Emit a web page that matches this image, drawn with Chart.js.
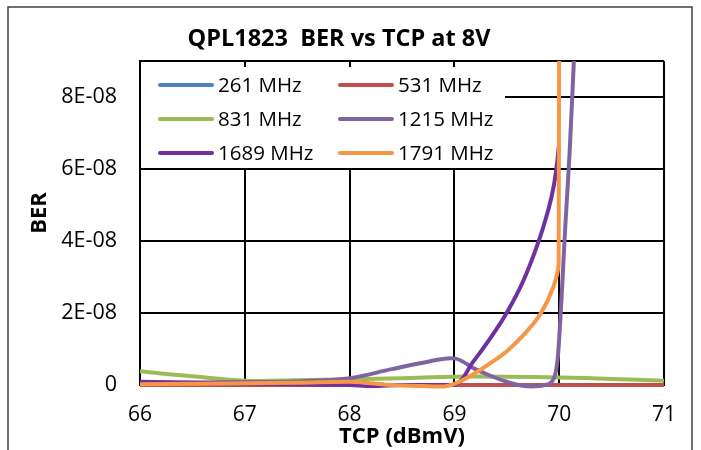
<!DOCTYPE html>
<html>
<head>
<meta charset="utf-8">
<script src="https://cdn.jsdelivr.net/npm/chart.js@4"></script>
<style>
html,body{margin:0;padding:0;background:#fff;}
#wrap{width:701px;height:450px;}
</style>
</head>
<body>
<div id="wrap"><canvas id="c" width="701" height="450"></canvas></div>
<script>
// ---- Data ----
const chartTitle = 'QPL1823  BER vs TCP at 8V';
const xTitle = 'TCP (dBmV)';
const yTitle = 'BER';
const xTickLabels = ['66', '67', '68', '69', '70', '71'];
const yTickLabels = ['0', '2E-08', '4E-08', '6E-08', '8E-08'];
const seriesNames = ['261 MHz', '531 MHz', '831 MHz', '1215 MHz', '1689 MHz', '1791 MHz'];
const seriesColors = ['#4F81BD', '#C0504D', '#9BBB59', '#8064A2', '#7030A0', '#F79646'];

const tcp261 = [66, 67, 68, 69, 70, 71];
const ber261 = [0, 0, 0, 0, 0, 0];

const tcp531 = [66, 67, 68, 69, 70, 71];
const ber531 = [0, 0, 0, 0, 0, 0];

const tcp831 = [66, 66.5, 67, 67.5, 68, 68.5, 69, 69.5, 70, 70.5, 71];
const ber831 = [3.8e-9, 2.4e-9, 1.2e-9, 1.3e-9, 1.6e-9, 1.9e-9, 2.3e-9, 2.3e-9, 2.1e-9, 1.7e-9, 1.2e-9];

const tcp1215 = [66, 67, 67.5, 68, 68.4, 68.7, 69, 69.2, 69.35, 69.5, 69.65, 69.8, 69.92, 69.97, 70.0, 70.06, 70.1, 70.14, 70.2];
const ber1215 = [0.6e-9, 0.8e-9, 1.0e-9, 1.9e-9, 4.4e-9, 6.2e-9, 7.4e-9, 4.4e-9, 2.5e-9, 0.9e-9, -0.2e-9, -0.3e-9, 0.6e-9, 4e-9, 13e-9, 45e-9, 65e-9, 90e-9, 125e-9];

const tcp1689 = [66, 66.5, 67, 67.5, 68, 68.2, 68.5, 69, 69.18, 69.34, 69.5, 69.66, 69.8, 69.9, 69.95, 69.98, 69.995];
const ber1689 = [0.9e-9, 0.6e-9, 0.4e-9, 0.2e-9, 0, -0.3e-9, 0, 0, 6.5e-9, 12.9e-9, 20.1e-9, 29.1e-9, 39.6e-9, 49.1e-9, 55.6e-9, 61.6e-9, 66e-9];

const tcp1791 = [66, 67, 67.5, 68, 68.2, 68.4, 68.7, 68.9, 69, 69.18, 69.34, 69.5, 69.66, 69.82, 69.945, 69.995, 70.0];
const ber1791 = [0.2e-9, 0.5e-9, 0.6e-9, 0.9e-9, 0.5e-9, 0, -0.3e-9, -0.4e-9, 0.3e-9, 3e-9, 6e-9, 9.4e-9, 13.9e-9, 19.7e-9, 27.3e-9, 34e-9, 300e-9];

const xs = [tcp261, tcp531, tcp831, tcp1215, tcp1689, tcp1791];
const ys = [ber261, ber531, ber831, ber1215, ber1689, ber1791];

const X_MIN = 66, X_MAX = 71, Y_MIN = 0, Y_MAX = 9e-8, Y_STEP = 2e-8;

const FONT = "'Open Sans', 'DejaVu Sans', sans-serif";

const datasets = seriesNames.map((name, i) => ({
  label: name,
  data: xs[i].map((x, j) => ({x: x, y: ys[i][j]})),
  borderColor: seriesColors[i],
  backgroundColor: seriesColors[i],
  borderWidth: 4,
  pointRadius: 0,
  pointHoverRadius: 0,
  tension: 0.35,
  fill: false,
  order: seriesNames.length - i,
  clip: {left: 4, right: 4, top: 0, bottom: 6}
}));

const decorPlugin = {
  id: 'decor',
  afterDraw(chart) {
    const ctx = chart.ctx;
    ctx.save();
    // outer border
    ctx.strokeStyle = '#404040';
    ctx.lineWidth = 1.5;
    ctx.strokeRect(8, 7, 684, 480);
    // title
    ctx.fillStyle = '#000';
    ctx.font = "bold 23.5px " + FONT;
    ctx.textAlign = 'center';
    ctx.textBaseline = 'middle';
    ctx.fillText(chartTitle, 339, 39);
    // y title
    ctx.save();
    ctx.translate(40, 213);
    ctx.rotate(-Math.PI / 2);
    ctx.font = "bold 22px " + FONT;
    ctx.fillText(yTitle, 0, 0);
    ctx.restore();
    // legend
    const ca = chart.chartArea;
    ctx.fillStyle = '#fff';
    ctx.fillRect(ca.left + 1, 67, 364, 101);
    const colX = [160, 340];
    const rowY = [85, 119, 153];
    ctx.font = "20.5px " + FONT;
    ctx.textAlign = 'left';
    ctx.textBaseline = 'middle';
    chart.data.datasets.forEach((ds, i) => {
      const cx = colX[i % 2], cy = rowY[Math.floor(i / 2)];
      ctx.strokeStyle = ds.borderColor;
      ctx.lineWidth = 4;
      ctx.lineCap = 'round';
      ctx.beginPath();
      ctx.moveTo(cx, cy);
      ctx.lineTo(cx + 52, cy);
      ctx.stroke();
      ctx.fillStyle = '#000';
      ctx.fillText(ds.label, cx + 58, cy + 1);
    });
    ctx.restore();
  }
};

new Chart(document.getElementById('c'), {
  type: 'line',
  data: {datasets: datasets},
  options: {
    responsive: false,
    animation: false,
    events: [],
    layout: {padding: {top: 61, left: 0, right: 37, bottom: 0}},
    plugins: {legend: {display: false}, tooltip: {enabled: false}, title: {display: false}},
    scales: {
      x: {
        type: 'linear',
        min: X_MIN, max: X_MAX,
        afterFit(s) { s.height = 65; },
        ticks: {
          stepSize: 1,
          padding: 17,
          color: '#000',
          font: {family: FONT, size: 21},
          maxRotation: 0,
          callback: (v) => { const k = Math.round(v - X_MIN); return Math.abs(v - X_MIN - k) < 1e-6 ? xTickLabels[k] : ''; }
        },
        grid: {color: '#000', lineWidth: 2, drawTicks: false},
        border: {display: true, color: '#000', width: 2},
        title: {display: true, text: xTitle, color: '#000', font: {family: FONT, size: 22, weight: 'bold'}, padding: {top: 0, bottom: 0}}
      },
      y: {
        type: 'linear',
        min: Y_MIN, max: Y_MAX,
        afterFit(s) { s.width = 140; },
        ticks: {
          stepSize: Y_STEP,
          padding: 23,
          color: '#000',
          font: {family: FONT, size: 21.5},
          callback: (v) => { const k = Math.round(v / Y_STEP); return (Math.abs(v / Y_STEP - k) < 1e-6 && k < yTickLabels.length) ? yTickLabels[k] : ''; }
        },
        grid: {color: '#000', lineWidth: 2, drawTicks: false},
        border: {display: true, color: '#000', width: 2}
      }
    }
  },
  plugins: [decorPlugin]
});
</script>
</body>
</html>
